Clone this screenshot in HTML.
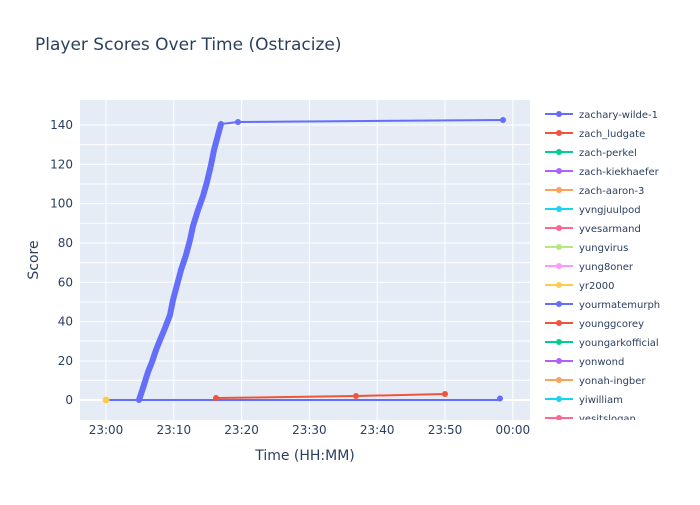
<!DOCTYPE html>
<html><head><meta charset="utf-8"><style>
body{margin:0;background:#fff;}
svg{font-family:"DejaVu Sans","Liberation Sans",sans-serif;}
</style></head><body>
<svg width="700" height="500" viewBox="0 0 700 500" xmlns="http://www.w3.org/2000/svg">
<rect width="700" height="500" fill="#fff"/>
<text x="35" y="50" font-size="17" fill="#2a3f5f">Player Scores Over Time (Ostracize)</text>
<rect x="80" y="100" width="450" height="320" fill="#e5ecf6"/>
<g stroke="#fff" stroke-width="1">
<line x1="80" x2="530" y1="380.3" y2="380.3"/>
<line x1="80" x2="530" y1="341" y2="341"/>
<line x1="80" x2="530" y1="302" y2="302"/>
<line x1="80" x2="530" y1="262.6" y2="262.6"/>
<line x1="80" x2="530" y1="223.3" y2="223.3"/>
<line x1="80" x2="530" y1="184" y2="184"/>
<line x1="80" x2="530" y1="144.6" y2="144.6"/>
<line x1="80" x2="530" y1="125" y2="125"/>
<line x1="80" x2="530" y1="164.3" y2="164.3"/>
<line x1="80" x2="530" y1="203.6" y2="203.6"/>
<line x1="80" x2="530" y1="243" y2="243"/>
<line x1="80" x2="530" y1="282.3" y2="282.3"/>
<line x1="80" x2="530" y1="321.6" y2="321.6"/>
<line x1="80" x2="530" y1="361" y2="361"/>
<line x1="106" x2="106" y1="100" y2="420"/><line x1="173.8" x2="173.8" y1="100" y2="420"/>
<line x1="241.6" x2="241.6" y1="100" y2="420"/><line x1="309.4" x2="309.4" y1="100" y2="420"/>
<line x1="377.2" x2="377.2" y1="100" y2="420"/><line x1="445" x2="445" y1="100" y2="420"/>
<line x1="512.8" x2="512.8" y1="100" y2="420"/>
</g>
<line x1="80" x2="530" y1="400" y2="400" stroke="#fff" stroke-width="2"/>
<g font-size="12" fill="#2a3f5f" text-anchor="end">
<text x="73" y="404">0</text><text x="73" y="365">20</text><text x="73" y="325.6">40</text>
<text x="73" y="286.3">60</text><text x="73" y="247">80</text><text x="73" y="207.6">100</text>
<text x="73" y="168.3">120</text><text x="73" y="129">140</text>
</g>
<g font-size="12" fill="#2a3f5f" text-anchor="middle">
<text x="106" y="434">23:00</text><text x="173.8" y="434">23:10</text><text x="241.6" y="434">23:20</text>
<text x="309.4" y="434">23:30</text><text x="377.2" y="434">23:40</text><text x="445" y="434">23:50</text>
<text x="512.8" y="434">00:00</text>
</g>
<text x="305" y="460" font-size="14" fill="#2a3f5f" text-anchor="middle">Time (HH:MM)</text>
<text transform="translate(38,260) rotate(-90)" font-size="14" fill="#2a3f5f" text-anchor="middle">Score</text>
<polyline points="106,400 500,400" stroke="#636efa" stroke-width="2" fill="none"/>
<circle cx="500" cy="398.5" r="3" fill="#636efa"/>
<polyline points="216,398 356,396 445,394" stroke="#ef553b" stroke-width="2" fill="none"/>
<circle cx="216" cy="398" r="3" fill="#ef553b"/><circle cx="356" cy="396" r="3" fill="#ef553b"/><circle cx="445" cy="394" r="3" fill="#ef553b"/>
<polyline points="221,124 238,122 503,120" stroke="#636efa" stroke-width="2" fill="none"/>
<polyline points="139,400 143,388 148,372 152,362 156,350 160,340 165,328 170,315 173,300 177,285 181,270 186,255 190,240 193,226 198,210 203,196 207,182 211,165 214,150 218,135 221,124" stroke="#636efa" stroke-width="6" stroke-linecap="round" stroke-linejoin="round" fill="none"/>
<circle cx="238" cy="122" r="3" fill="#636efa"/><circle cx="503" cy="120" r="3" fill="#636efa"/>
<circle cx="106" cy="400" r="3.5" fill="#fecb52"/>
<g font-size="10" fill="#2a3f5f">
<g transform="translate(0,114)"><line x1="545" x2="573" stroke="#636efa" stroke-width="2"/><circle cx="559" r="3" fill="#636efa"/><text x="579" y="4">zachary-wilde-1</text></g>
<g transform="translate(0,133)"><line x1="545" x2="573" stroke="#ef553b" stroke-width="2"/><circle cx="559" r="3" fill="#ef553b"/><text x="579" y="4">zach_ludgate</text></g>
<g transform="translate(0,152)"><line x1="545" x2="573" stroke="#00cc96" stroke-width="2"/><circle cx="559" r="3" fill="#00cc96"/><text x="579" y="4">zach-perkel</text></g>
<g transform="translate(0,171)"><line x1="545" x2="573" stroke="#ab63fa" stroke-width="2"/><circle cx="559" r="3" fill="#ab63fa"/><text x="579" y="4">zach-kiekhaefer</text></g>
<g transform="translate(0,190)"><line x1="545" x2="573" stroke="#ffa15a" stroke-width="2"/><circle cx="559" r="3" fill="#ffa15a"/><text x="579" y="4">zach-aaron-3</text></g>
<g transform="translate(0,209)"><line x1="545" x2="573" stroke="#19d3f3" stroke-width="2"/><circle cx="559" r="3" fill="#19d3f3"/><text x="579" y="4">yvngjuulpod</text></g>
<g transform="translate(0,228)"><line x1="545" x2="573" stroke="#ff6692" stroke-width="2"/><circle cx="559" r="3" fill="#ff6692"/><text x="579" y="4">yvesarmand</text></g>
<g transform="translate(0,247)"><line x1="545" x2="573" stroke="#b6e880" stroke-width="2"/><circle cx="559" r="3" fill="#b6e880"/><text x="579" y="4">yungvirus</text></g>
<g transform="translate(0,266)"><line x1="545" x2="573" stroke="#ff97ff" stroke-width="2"/><circle cx="559" r="3" fill="#ff97ff"/><text x="579" y="4">yung8oner</text></g>
<g transform="translate(0,285)"><line x1="545" x2="573" stroke="#fecb52" stroke-width="2"/><circle cx="559" r="3" fill="#fecb52"/><text x="579" y="4">yr2000</text></g>
<g transform="translate(0,304)"><line x1="545" x2="573" stroke="#636efa" stroke-width="2"/><circle cx="559" r="3" fill="#636efa"/><text x="579" y="4">yourmatemurph</text></g>
<g transform="translate(0,323)"><line x1="545" x2="573" stroke="#ef553b" stroke-width="2"/><circle cx="559" r="3" fill="#ef553b"/><text x="579" y="4">younggcorey</text></g>
<g transform="translate(0,342)"><line x1="545" x2="573" stroke="#00cc96" stroke-width="2"/><circle cx="559" r="3" fill="#00cc96"/><text x="579" y="4">youngarkofficial</text></g>
<g transform="translate(0,361)"><line x1="545" x2="573" stroke="#ab63fa" stroke-width="2"/><circle cx="559" r="3" fill="#ab63fa"/><text x="579" y="4">yonwond</text></g>
<g transform="translate(0,380)"><line x1="545" x2="573" stroke="#ffa15a" stroke-width="2"/><circle cx="559" r="3" fill="#ffa15a"/><text x="579" y="4">yonah-ingber</text></g>
<g transform="translate(0,399)"><line x1="545" x2="573" stroke="#19d3f3" stroke-width="2"/><circle cx="559" r="3" fill="#19d3f3"/><text x="579" y="4">yiwilliam</text></g>
<g transform="translate(0,418)"><line x1="545" x2="573" stroke="#ff6692" stroke-width="2"/><circle cx="559" r="3" fill="#ff6692"/><text x="579" y="4">yesitslogan</text></g>
</g>
<rect x="540" y="420" width="160" height="20" fill="#fff"/>
</svg>
</body></html>
